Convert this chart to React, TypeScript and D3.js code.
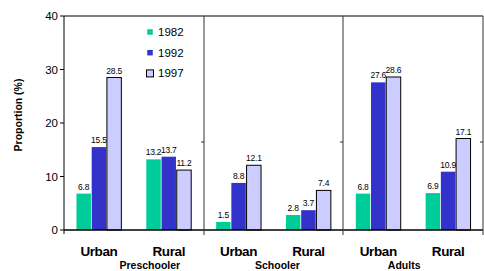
import React from "react";
import * as d3 from "d3";

const groups = ["Preschooler", "Schooler", "Adults"];
const areas = ["Urban", "Rural"];
const years = ["1982", "1992", "1997"];
const v1982 = [6.8, 13.2, 1.5, 2.8, 6.8, 6.9];
const v1992 = [15.5, 13.7, 8.8, 3.7, 27.6, 10.9];
const v1997 = [28.5, 11.2, 12.1, 7.4, 28.6, 17.1];
const yTicks = [0, 10, 20, 30, 40];

const colors = ["#00CC99", "#3333CC", "#CCCCFF"];
const W = 484, H = 271;
const L = 64, R = 483, T = 16, B = 230;
const groupLabelOffset = [16, 4, -9];

export default function App() {
  const series = [v1982, v1992, v1997];
  const cats = groups.flatMap((g) => areas.map((a) => g + "|" + a));
  const x = d3.scaleBand<string>().domain(cats).range([L, R]).paddingInner(0.357).paddingOuter(0.1785);
  const xi = d3.scaleBand<string>().domain(years).range([0, x.bandwidth()]).paddingInner(0.05);
  const y = d3.scaleLinear().domain([0, 40]).range([B, T]);
  const gw = (R - L) / groups.length;
  const font = "Liberation Sans, Arial, sans-serif";

  return (
    <svg width={W} height={H} style={{ position: "absolute", left: 0, top: 0, background: "#fff" }} fontFamily={font}>
      {/* bars */}
      {cats.map((c, ci) =>
        years.map((yr, si) => {
          const v = series[si][ci];
          const bx = (x(c) as number) + (xi(yr) as number);
          const bw = xi.bandwidth();
          return (
            <g key={c + yr}>
              <rect
                x={bx}
                y={y(v)}
                width={bw}
                height={B - y(v)}
                fill={colors[si]}
                stroke={si === 2 ? "#000" : "none"}
                strokeWidth={si === 2 ? 1 : 0}
              />
              <text x={bx + bw / 2} y={y(v) - 4} fontSize={8.5} textAnchor="middle" fill="#000" letterSpacing={-0.2}>
                {v.toFixed(1)}
              </text>
            </g>
          );
        })
      )}
      {/* frame */}
      <line x1={L} y1={T} x2={R} y2={T} stroke="#000" />
      <line x1={L} y1={T} x2={L} y2={B + 4} stroke="#000" />
      <line x1={L} y1={B} x2={R} y2={B} stroke="#000" strokeWidth={1.3} />
      {d3.range(1, groups.length + 1).map((i) => {
        const xx = Math.round(L + gw * i);
        return (
          <g key={i}>
            <line x1={xx} y1={T} x2={xx} y2={B + 5} stroke="#333" />
            <line x1={xx - 3} y1={142} x2={xx} y2={142} stroke="#333" />
          </g>
        );
      })}
      {/* y axis ticks */}
      {yTicks.map((t) => (
        <g key={t}>
          <line x1={L - 4} y1={y(t)} x2={L} y2={y(t)} stroke="#000" />
          <text x={L - 6} y={y(t) + 4} fontSize={11.5} textAnchor="end" fill="#000">
            {t}
          </text>
        </g>
      ))}
      <text
        transform={`translate(22,${(T + B) / 2 - 8}) rotate(-90)`}
        fontSize={10.5}
        fontWeight="bold"
        textAnchor="middle"
      >
        Proportion (%)
      </text>
      {/* category labels */}
      {cats.map((c, ci) => (
        <text
          key={c}
          x={(x(c) as number) + x.bandwidth() / 2}
          y={255.5}
          fontSize={13.5}
          fontWeight="bold"
          textAnchor="middle"
          letterSpacing={-0.4}
        >
          {areas[ci % 2]}
        </text>
      ))}
      {groups.map((g, gi) => (
        <text
          key={g}
          x={L + gw * (gi + 0.5) + groupLabelOffset[gi]}
          y={269}
          fontSize={10.5}
          fontWeight="bold"
          textAnchor="middle"
        >
          {g}
        </text>
      ))}
      {/* legend */}
      {years.map((yr, i) => {
        const ly = 32 + i * 20.7;
        const s = i === 2 ? 7 : 5.5;
        return (
          <g key={yr}>
            <rect
              x={150 - s / 2}
              y={ly - s / 2}
              width={s}
              height={s}
              fill={colors[i]}
              stroke={i === 2 ? "#000" : "none"}
            />
            <text x={158} y={ly + 4} fontSize={11.5}>
              {yr}
            </text>
          </g>
        );
      })}
    </svg>
  );
}
